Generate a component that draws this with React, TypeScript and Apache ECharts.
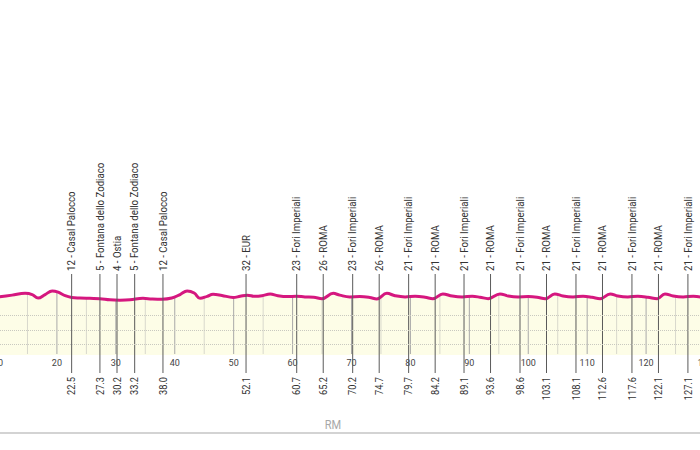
import React, { useEffect, useRef } from "react";
import * as echarts from "echarts";

// Profile: distance (km) and elevation (m)
const KM = [10.0, 10.3, 12.4, 14.6, 15.8, 16.8, 18.0, 19.2, 20.2, 21.4, 22.5, 23.9, 25.6, 27.3, 29.0, 30.7, 32.4, 34.6, 36.1, 37.8, 39.5, 40.9, 42.1, 43.3, 44.3, 45.5, 46.5, 48.0, 49.9, 51.1, 52.3, 53.6, 54.8, 56.2, 57.5, 59.2, 60.6, 62.1, 63.6, 65.0, 66.9, 68.0, 69.7, 71.4, 73.1, 74.3, 76.0, 77.4, 79.1, 80.8, 82.5, 83.8, 85.5, 87.1, 88.8, 90.5, 91.8, 93.2, 95.2, 96.6, 98.3, 100.0, 101.5, 102.9, 104.5, 105.9, 107.6, 109.3, 110.8, 112.2, 113.9, 115.2, 116.9, 118.6, 120.3, 121.9, 123.2, 124.6, 126.3, 128.0, 129.2, 130.0];
const ELEV = [12, 12.5, 18, 24, 20, 8, 20, 32, 28, 16, 10, 8, 7, 6, 2, 1, 2, 7, 5, 4, 8, 20, 32, 25, 7, 14, 21, 17, 10, 14, 18, 14, 16, 22, 16, 13, 14, 12, 11, 6, 24, 18, 12, 13, 10, 5, 24, 16, 12, 14, 11, 6, 22, 15, 12, 14, 11, 6, 22, 15, 12, 13, 11, 6, 22, 15, 12, 14, 11, 6, 22, 15, 12, 14, 11, 6, 22, 15, 12, 14, 12, 12];

// Stations along the route
const STATION_KM = [22.5, 27.3, 30.2, 33.2, 38.0, 52.1, 60.7, 65.2, 70.2, 74.7, 79.7, 84.2, 89.1, 93.6, 98.6, 103.1, 108.1, 112.6, 117.6, 122.1, 127.1];
const STATION_NAME = [
  "12 - Casal Palocco",
  "5 - Fontana dello Zodiaco",
  "4 - Ostia",
  "5 - Fontana dello Zodiaco",
  "12 - Casal Palocco",
  "32 - EUR",
  "23 - Fori Imperiali",
  "26 - ROMA",
  "23 - Fori Imperiali",
  "26 - ROMA",
  "21 - Fori Imperiali",
  "21 - ROMA",
  "21 - Fori Imperiali",
  "21 - ROMA",
  "21 - Fori Imperiali",
  "21 - ROMA",
  "21 - Fori Imperiali",
  "21 - ROMA",
  "21 - Fori Imperiali",
  "21 - ROMA",
  "21 - Fori Imperiali",
];

// Reference grid
const GRID_KM = [10, 15, 20, 25, 30, 35, 40, 45, 50, 55, 60, 65, 70, 75, 80, 85, 90, 95, 100, 105, 110, 115, 120, 125, 130];
const ELEV_GRID = [-50, -100, -150];
const PROVINCE = "RM";

const X_MIN = 10;
const X_MAX = 130;
const Y_MIN = -185;
const Y_MAX = 883;

const FONT = "Roboto, sans-serif";

function elevAt(k: number): number {
  for (let i = 0; i < KM.length - 1; i++) {
    if (k >= KM[i] && k <= KM[i + 1]) {
      const t = (k - KM[i]) / (KM[i + 1] - KM[i] || 1);
      return ELEV[i] + t * (ELEV[i + 1] - ELEV[i]);
    }
  }
  return ELEV[ELEV.length - 1];
}

export default function App() {
  const ref = useRef<HTMLDivElement>(null);
  useEffect(() => {
    if (!ref.current) return;
    const chart = echarts.init(ref.current, undefined, { renderer: "svg" });
    const profile = KM.map((k, i) => [k, ELEV[i]]);
    const option: any = {
      animation: false,
      backgroundColor: "#ffffff",
      grid: {
        left: 0,
        right: 0,
        top: 40,
        bottom: 95,
        containLabel: false,
        outerBoundsMode: "none",
      },
      xAxis: {
        type: "value",
        min: X_MIN,
        max: X_MAX,
        interval: 10,
        axisLine: { show: true, lineStyle: { color: "#1e1e1e", width: 2 } },
        axisTick: { show: false },
        splitLine: { show: false },
        axisLabel: { color: "#444", fontSize: 9, fontFamily: FONT, margin: 3 },
      },
      yAxis: {
        type: "value",
        min: Y_MIN,
        max: Y_MAX,
        show: false,
        splitLine: { show: false },
      },
      graphic: [
        {
          type: "line",
          shape: { x1: 0, y1: 433, x2: 710, y2: 433 },
          style: { stroke: "#c4c4c4", lineWidth: 1.5 },
        },
        {
          type: "text",
          x: 335,
          y: 425,
          scaleX: 0.85,
          style: {
            text: PROVINCE,
            fill: "#a8a8a8",
            font: `13px ${FONT}`,
            textAlign: "center",
            textVerticalAlign: "middle",
          },
        },
      ],
      series: [
        {
          type: "line",
          data: profile,
          smooth: 0.4,
          showSymbol: false,
          lineStyle: { width: 0 },
          areaStyle: { color: "#fdfde7", origin: "start", opacity: 1 },
          silent: true,
          z: 1,
          markLine: {
            silent: true,
            symbol: "none",
            label: { show: false },
            lineStyle: { color: "#c9c9c0", type: "dotted", width: 1 },
            data: ELEV_GRID.map((v) => ({ yAxis: v })),
          },
        },
        {
          type: "custom",
          coordinateSystem: "cartesian2d",
          silent: true,
          z: 2,
          data: GRID_KM.map((k) => [k, elevAt(k)]),
          renderItem: (params: any, api: any) => {
            const k = api.value(0);
            const p0 = api.coord([k, Y_MIN]);
            const p1 = api.coord([k, api.value(1)]);
            const major = Math.round(k) % 10 === 0;
            return {
              type: "line",
              shape: { x1: p0[0], y1: p0[1] - 1, x2: p1[0], y2: p1[1] },
              style: { stroke: major ? "#a9a9a9" : "#d8d8cc", lineWidth: 1 },
            };
          },
        },
        {
          type: "line",
          data: profile,
          smooth: 0.4,
          showSymbol: false,
          silent: true,
          lineStyle: { color: "#d5177f", width: 3 },
          z: 3,
        },
        {
          type: "custom",
          coordinateSystem: "cartesian2d",
          silent: true,
          z: 4,
          data: STATION_KM.map((k) => [k, Y_MIN]),
          renderItem: (params: any, api: any) => {
            const k = api.value(0);
            const i = params.dataIndex;
            const p = api.coord([k, Y_MIN]);
            const x = p[0];
            const yb = p[1];
            return {
              type: "group",
              children: [
                {
                  type: "line",
                  shape: { x1: x, y1: yb - 81, x2: x, y2: yb + 18 },
                  style: { stroke: "#5a5a5a", lineWidth: 1 },
                },
                {
                  type: "text",
                  x: x,
                  y: yb - 84,
                  rotation: Math.PI / 2,
                  scaleX: 0.84,
                  style: {
                    text: STATION_NAME[i],
                    fill: "#333",
                    font: `11.5px ${FONT}`,
                    align: "left",
                    verticalAlign: "middle",
                  },
                },
                {
                  type: "text",
                  x: x,
                  y: yb + 22,
                  rotation: Math.PI / 2,
                  scaleX: 0.84,
                  style: {
                    text: STATION_KM[i].toFixed(1),
                    fill: "#333",
                    font: `11px ${FONT}`,
                    align: "right",
                    verticalAlign: "middle",
                  },
                },
              ],
            };
          },
        },
      ],
    };
    chart.setOption(option);
    return () => chart.dispose();
  }, []);
  return (
    <div
      ref={ref}
      style={{ position: "fixed", left: -2, top: 0, width: 707, height: 450 }}
    />
  );
}
